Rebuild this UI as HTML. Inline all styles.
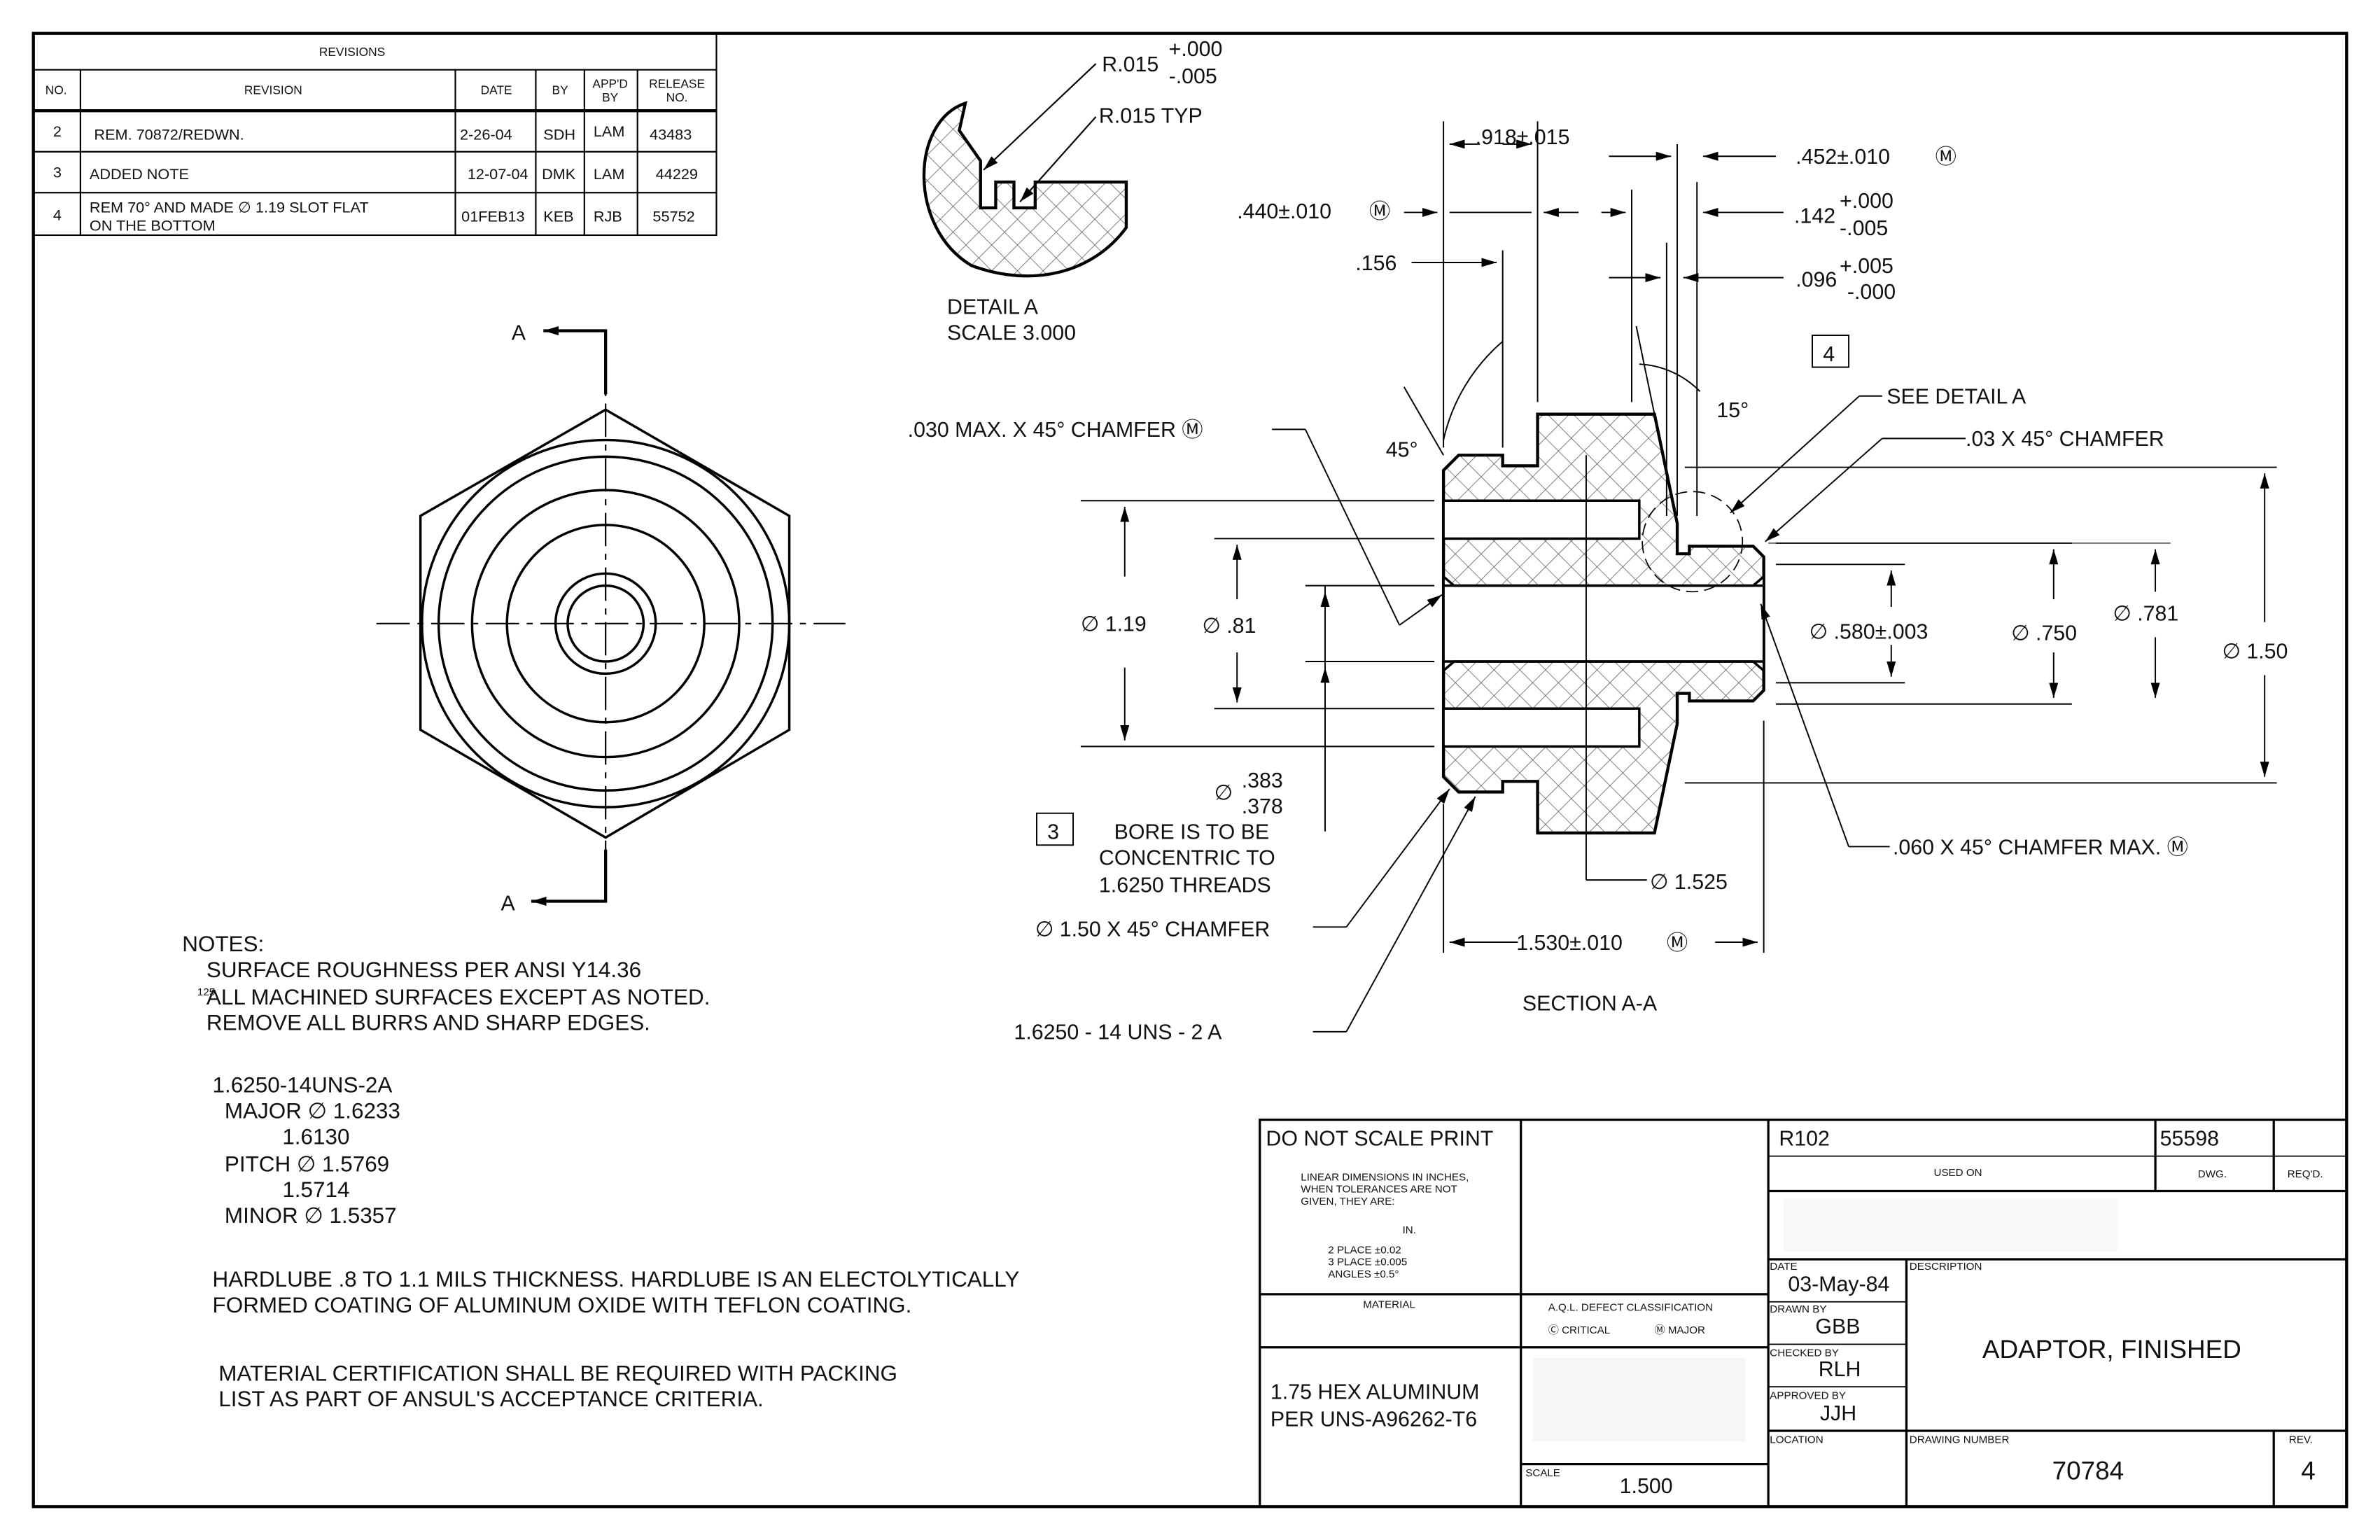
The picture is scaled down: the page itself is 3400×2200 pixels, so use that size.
<!DOCTYPE html>
<html><head><meta charset="utf-8"><style>
html,body{margin:0;padding:0;background:#fff;}
svg{display:block;}
text{font-family:"Liberation Sans",sans-serif;fill:#111;}
</style></head><body>
<svg width="3400" height="2200" viewBox="0 0 1568 1015" preserveAspectRatio="none" xmlns="http://www.w3.org/2000/svg">
<defs>
<pattern id="h" width="12" height="12" patternUnits="userSpaceOnUse" patternTransform="rotate(45)">
<rect width="12" height="12" fill="#fff"/>
<line x1="0" y1="0" x2="0" y2="12" stroke="#555" stroke-width="0.7"/>
<line x1="0" y1="0" x2="12" y2="0" stroke="#555" stroke-width="0.7"/>
</pattern>
<marker id="a" markerWidth="10" markerHeight="6" refX="10" refY="3" orient="auto" markerUnits="userSpaceOnUse"><path d="M0,0 L10,3 L0,6z" fill="#000"/></marker>
</defs>
<rect width="1568" height="1015" fill="#fff"/>
<rect x="22" y="22" width="1524" height="971" fill="none" stroke="#000" stroke-width="2"/>

<!-- Revisions -->
<g stroke="#000" stroke-width="1" fill="none">
<rect x="22" y="22" width="450" height="133"/>
<line x1="22" y1="46" x2="472" y2="46"/>
<line x1="22" y1="73" x2="472" y2="73" stroke-width="2"/>
<line x1="22" y1="100" x2="472" y2="100"/>
<line x1="22" y1="127" x2="472" y2="127"/>
<line x1="53" y1="46" x2="53" y2="155"/><line x1="300" y1="46" x2="300" y2="155"/>
<line x1="353" y1="46" x2="353" y2="155"/><line x1="385" y1="46" x2="385" y2="155"/>
<line x1="420" y1="46" x2="420" y2="155"/>
</g>
<g font-size="8" text-anchor="middle">
<text x="232" y="37">REVISIONS</text><text x="37" y="62">NO.</text><text x="180" y="62">REVISION</text>
<text x="327" y="62">DATE</text><text x="369" y="62">BY</text><text x="402" y="58">APP'D</text><text x="402" y="67">BY</text>
<text x="446" y="58">RELEASE</text><text x="446" y="67">NO.</text>
</g>
<g font-size="10">
<text x="35" y="90">2</text><text x="62" y="92">REM. 70872/REDWN.</text><text x="303" y="92">2-26-04</text><text x="358" y="92">SDH</text><text x="391" y="90">LAM</text><text x="428" y="92">43483</text>
<text x="35" y="117">3</text><text x="59" y="118">ADDED NOTE</text><text x="308" y="118">12-07-04</text><text x="357" y="118">DMK</text><text x="391" y="118">LAM</text><text x="432" y="118">44229</text>
<text x="35" y="145">4</text><text x="59" y="140">REM 70° AND MADE ∅ 1.19 SLOT FLAT</text><text x="59" y="152">ON THE BOTTOM</text><text x="304" y="146">01FEB13</text><text x="358" y="146">KEB</text><text x="391" y="146">RJB</text><text x="430" y="146">55752</text>
</g>

<!-- Hex view -->
<g stroke="#000" stroke-width="1.6" fill="none">
<polygon points="399,270 520,340 520,481 399,552 277,481 277,340"/>
<circle cx="399" cy="411" r="121"/><circle cx="399" cy="411" r="110"/>
<circle cx="399" cy="411" r="88"/><circle cx="399" cy="411" r="65"/>
<circle cx="399" cy="411" r="33"/><circle cx="399" cy="411" r="25"/>
</g>
<g stroke="#000" stroke-width="1" stroke-dasharray="22,5,4,5" fill="none">
<line x1="248" y1="411" x2="557" y2="411"/><line x1="399" y1="230" x2="399" y2="590"/>
</g>
<g stroke="#000" stroke-width="2" fill="none">
<polyline points="399,260 399,218 358,218" marker-end="url(#a)"/>
<polyline points="399,560 399,594 350,594" marker-end="url(#a)"/>
</g>
<text x="337" y="224" font-size="14">A</text><text x="330" y="600" font-size="14">A</text>

<!-- Detail A -->
<path d="M636,68 C600,80 598,150 640,175 C680,190 720,180 742,150 L742,120 L682,120 L682,137 L668,137 L668,120 L656,120 L656,137 L646,137 L646,106 L632,86 Z" fill="url(#h)" stroke="#000" stroke-width="2"/>
<g stroke="#000" stroke-width="1" fill="none">
<line x1="722" y1="42" x2="648" y2="112" marker-end="url(#a)"/>
<line x1="722" y1="77" x2="672" y2="133" marker-end="url(#a)"/>
</g>
<g font-size="14"><text x="726" y="47">R.015</text><text x="770" y="37">+.000</text><text x="770" y="55">-.005</text>
<text x="724" y="81">R.015 TYP</text><text x="624" y="207">DETAIL  A</text><text x="624" y="224">SCALE  3.000</text></g>

<!-- Section part -->
<path d="M961,300 L990,300 L990,307 L1013,307 L1013,273 L1090,273 L1105,345 L1105,365 L1113,365 L1113,360 L1155,360 L1162,367 L1162,455 L1155,462 L1113,462 L1113,457 L1105,457 L1105,477 L1090,549 L1013,549 L1013,515 L990,515 L990,522 L961,522 L951,512 L951,310 Z" fill="url(#h)" stroke="#000" stroke-width="2"/>
<g fill="#fff" stroke="#000" stroke-width="1.6">
<path d="M951,380 L958,386 L1155,386 L1162,380 L1162,442 L1155,436 L958,436 L951,442 Z"/>
<rect x="951" y="330" width="129" height="25"/>
<rect x="951" y="467" width="129" height="25"/>
</g>
<line x1="951" y1="386" x2="1162" y2="386" stroke="#000" stroke-width="1.6"/>
<line x1="951" y1="436" x2="1162" y2="436" stroke="#000" stroke-width="1.6"/>
<circle cx="1115" cy="357" r="33" fill="none" stroke="#000" stroke-width="0.8" stroke-dasharray="8,4"/>

<!-- dimension lines -->
<g stroke="#000" stroke-width="0.9" fill="none">
<line x1="951" y1="80" x2="951" y2="295"/><line x1="1013" y1="80" x2="1013" y2="265"/>
<line x1="1075" y1="125" x2="1075" y2="265"/><line x1="990" y1="165" x2="990" y2="295"/>
<line x1="1105" y1="95" x2="1105" y2="340"/><line x1="1118" y1="120" x2="1118" y2="340"/><line x1="1098" y1="160" x2="1098" y2="340"/>
<line x1="975" y1="95" x2="955" y2="95" marker-end="url(#a)"/><line x1="990" y1="95" x2="1009" y2="95" marker-end="url(#a)"/>
<line x1="925" y1="140" x2="947" y2="140" marker-end="url(#a)"/><line x1="1040" y1="140" x2="1017" y2="140"  marker-end="url(#a)"/>
<line x1="955" y1="140" x2="1009" y2="140"/>
<line x1="930" y1="173" x2="986" y2="173" marker-end="url(#a)"/>
<line x1="1060" y1="103" x2="1101" y2="103" marker-end="url(#a)"/><line x1="1170" y1="103" x2="1122" y2="103" marker-end="url(#a)"/>
<line x1="1055" y1="140" x2="1071" y2="140" marker-end="url(#a)"/><line x1="1175" y1="140" x2="1122" y2="140" marker-end="url(#a)"/>
<line x1="1060" y1="183" x2="1094" y2="183" marker-end="url(#a)"/><line x1="1175" y1="183" x2="1109" y2="183" marker-end="url(#a)"/>
<path d="M951,290 A120,120 0 0 1 990,225"/><line x1="951" y1="300" x2="925" y2="255"/>
<path d="M1080,240 A60,60 0 0 1 1120,258"/><line x1="1090" y1="273" x2="1078" y2="215"/>
<line x1="712" y1="330" x2="945" y2="330"/><line x1="712" y1="492" x2="945" y2="492"/>
<line x1="741" y1="380" x2="741" y2="334" marker-end="url(#a)"/><line x1="741" y1="440" x2="741" y2="488" marker-end="url(#a)"/>
<line x1="800" y1="355" x2="945" y2="355"/><line x1="800" y1="467" x2="945" y2="467"/>
<line x1="815" y1="395" x2="815" y2="359" marker-end="url(#a)"/><line x1="815" y1="430" x2="815" y2="463" marker-end="url(#a)"/>
<line x1="860" y1="386" x2="945" y2="386"/><line x1="860" y1="436" x2="945" y2="436"/>
<line x1="873" y1="386" x2="873" y2="548"/>
<line x1="873" y1="500" x2="873" y2="440" marker-end="url(#a)"/><line x1="873" y1="395" x2="873" y2="390" marker-end="url(#a)"/>
<line x1="1170" y1="372" x2="1255" y2="372"/><line x1="1170" y1="450" x2="1255" y2="450"/>
<line x1="1246" y1="400" x2="1246" y2="376" marker-end="url(#a)"/><line x1="1246" y1="425" x2="1246" y2="446" marker-end="url(#a)"/>
<line x1="1170" y1="358" x2="1365" y2="358"/><line x1="1170" y1="464" x2="1365" y2="464"/>
<line x1="1353" y1="395" x2="1353" y2="362" marker-end="url(#a)"/><line x1="1353" y1="430" x2="1353" y2="460" marker-end="url(#a)"/>
<line x1="1165" y1="358" x2="1430" y2="358" stroke-width="0.5"/>
<line x1="1420" y1="390" x2="1420" y2="362" marker-end="url(#a)"/><line x1="1420" y1="420" x2="1420" y2="460" marker-end="url(#a)"/>
<line x1="1110" y1="308" x2="1500" y2="308"/><line x1="1110" y1="516" x2="1500" y2="516"/>
<line x1="1492" y1="410" x2="1492" y2="312" marker-end="url(#a)"/><line x1="1492" y1="445" x2="1492" y2="512" marker-end="url(#a)"/>
<line x1="951" y1="530" x2="951" y2="628"/><line x1="1162" y1="475" x2="1162" y2="628"/>
<line x1="1000" y1="621" x2="955" y2="621" marker-end="url(#a)"/><line x1="1130" y1="621" x2="1158" y2="621" marker-end="url(#a)"/>
<line x1="1045" y1="300" x2="1045" y2="580"/><line x1="1045" y1="580" x2="1085" y2="580"/>
<line x1="838" y1="283" x2="860" y2="283"/><line x1="860" y1="283" x2="922" y2="412"/><line x1="922" y1="412" x2="950" y2="392" marker-end="url(#a)"/>
<line x1="1240" y1="261" x2="1225" y2="261"/><line x1="1225" y1="261" x2="1140" y2="338" marker-end="url(#a)"/>
<line x1="1295" y1="289" x2="1240" y2="289"/><line x1="1240" y1="289" x2="1163" y2="357" marker-end="url(#a)"/>
<line x1="1245" y1="558" x2="1218" y2="558"/><line x1="1218" y1="558" x2="1160" y2="398" marker-end="url(#a)"/>
<line x1="865" y1="611" x2="887" y2="611"/><line x1="887" y1="611" x2="955" y2="520" marker-end="url(#a)"/>
<line x1="865" y1="680" x2="887" y2="680"/><line x1="887" y1="680" x2="972" y2="525" marker-end="url(#a)"/>
<rect x="1194" y="221" width="24" height="21"/><rect x="683" y="536" width="24" height="21"/>
</g>
<g font-size="14">
<text x="972" y="95">.918±.015</text><text x="1183" y="108">.452±.010</text><text x="1275" y="108">Ⓜ</text>
<text x="815" y="144">.440±.010</text><text x="902" y="144">Ⓜ</text>
<text x="1182" y="147">.142</text><text x="1212" y="137">+.000</text><text x="1212" y="155">-.005</text>
<text x="893" y="178">.156</text>
<text x="1183" y="189">.096</text><text x="1212" y="180">+.005</text><text x="1217" y="197">-.000</text>
<text x="1201" y="238">4</text><text x="690" y="553">3</text>
<text x="1243" y="266">SEE DETAIL  A</text><text x="1131" y="275">15°</text><text x="913" y="301">45°</text>
<text x="1295" y="294">.03 X 45° CHAMFER</text>
<text x="598" y="288">.030 MAX. X 45° CHAMFER Ⓜ</text>
<text x="712" y="416">∅ 1.19</text><text x="792" y="417">∅ .81</text>
<text x="1192" y="421">∅ .580±.003</text><text x="1325" y="422">∅ .750</text><text x="1392" y="409">∅ .781</text><text x="1464" y="434">∅ 1.50</text>
<text x="800" y="527">∅</text><text x="818" y="519">.383</text><text x="818" y="536">.378</text>
<text x="734" y="553">BORE IS TO BE</text><text x="724" y="570">CONCENTRIC TO</text><text x="724" y="588">1.6250 THREADS</text>
<text x="1247" y="563">.060 X 45° CHAMFER MAX. Ⓜ</text>
<text x="1087" y="586">∅ 1.525</text>
<text x="682" y="617">∅ 1.50 X 45° CHAMFER</text>
<text x="999" y="626">1.530±.010</text><text x="1098" y="626">Ⓜ</text>
<text x="1003" y="666">SECTION  A-A</text>
<text x="668" y="685">1.6250 - 14 UNS - 2 A</text>
</g>

<!-- Notes -->
<g font-size="14.5">
<text x="120" y="627">NOTES:</text>
<text x="136" y="644">SURFACE ROUGHNESS PER ANSI Y14.36</text>
<text x="136" y="662">ALL MACHINED SURFACES EXCEPT AS NOTED.</text>
<text x="136" y="679">REMOVE ALL BURRS AND SHARP EDGES.</text>
<text x="140" y="720">1.6250-14UNS-2A</text>
<text x="148" y="737">MAJOR ∅  1.6233</text><text x="186" y="754">1.6130</text>
<text x="148" y="772">PITCH ∅  1.5769</text><text x="186" y="789">1.5714</text>
<text x="148" y="806">MINOR ∅  1.5357</text>
<text x="140" y="848">HARDLUBE .8 TO 1.1 MILS THICKNESS. HARDLUBE IS AN ELECTOLYTICALLY</text>
<text x="140" y="865">FORMED COATING OF ALUMINUM OXIDE WITH TEFLON COATING.</text>
<text x="144" y="910">MATERIAL CERTIFICATION SHALL BE REQUIRED WITH PACKING</text>
<text x="144" y="927">LIST AS PART OF ANSUL'S ACCEPTANCE CRITERIA.</text>
</g>
<text x="130" y="656" font-size="7">125</text>

<!-- Title block -->
<g stroke="#000" stroke-width="1.5" fill="none">
<rect x="830" y="738" width="716" height="255"/>
<line x1="1002" y1="738" x2="1002" y2="993"/><line x1="1165" y1="738" x2="1165" y2="993"/>
<line x1="830" y1="853" x2="1165" y2="853"/><line x1="830" y1="888" x2="1165" y2="888"/>
<line x1="1002" y1="965" x2="1165" y2="965"/>
<line x1="1165" y1="762" x2="1546" y2="762" stroke-width="0.8"/>
<line x1="1165" y1="785" x2="1546" y2="785"/><line x1="1165" y1="830" x2="1546" y2="830"/>
<line x1="1420" y1="738" x2="1420" y2="785"/><line x1="1498" y1="738" x2="1498" y2="785"/>
<line x1="1256" y1="830" x2="1256" y2="993"/>
<line x1="1165" y1="858" x2="1256" y2="858" stroke-width="0.8"/><line x1="1165" y1="886" x2="1256" y2="886" stroke-width="0.8"/>
<line x1="1165" y1="914" x2="1256" y2="914" stroke-width="0.8"/><line x1="1165" y1="943" x2="1546" y2="943"/>
<line x1="1498" y1="943" x2="1498" y2="993"/>
</g>
<rect x="1010" y="895" width="140" height="55" fill="#f6f6f6"/>
<rect x="1175" y="790" width="220" height="35" fill="#f8f8f8"/>
<g font-size="14"><text x="834" y="755">DO NOT SCALE PRINT</text><text x="1172" y="755">R102</text><text x="1423" y="755">55598</text>
<text x="837" y="922">1.75 HEX ALUMINUM</text><text x="837" y="940">PER UNS-A96262-T6</text>
<text x="1178" y="851">03-May-84</text><text x="1196" y="879">GBB</text><text x="1198" y="907">RLH</text><text x="1199" y="936">JJH</text>
<text x="1067" y="984">1.500</text><text x="1352" y="975" font-size="17">70784</text><text x="1516" y="975" font-size="17">4</text>
<text x="1306" y="895" font-size="17">ADAPTOR, FINISHED</text></g>
<g font-size="7">
<text x="857" y="778">LINEAR DIMENSIONS IN INCHES,</text><text x="857" y="786">WHEN TOLERANCES ARE NOT</text><text x="857" y="794">GIVEN, THEY ARE:</text>
<text x="924" y="813">IN.</text><text x="875" y="826">2 PLACE  ±0.02</text><text x="875" y="834">3 PLACE  ±0.005</text><text x="875" y="842">ANGLES  ±0.5°</text>
<text x="898" y="862">MATERIAL</text><text x="1020" y="864">A.Q.L. DEFECT CLASSIFICATION</text>
<text x="1020" y="879">Ⓒ CRITICAL</text><text x="1090" y="879">Ⓜ MAJOR</text>
<text x="1005" y="973">SCALE</text><text x="1274" y="775">USED ON</text><text x="1448" y="776">DWG.</text><text x="1507" y="776">REQ'D.</text>
<text x="1166" y="837">DATE</text><text x="1258" y="837">DESCRIPTION</text><text x="1166" y="865">DRAWN BY</text>
<text x="1166" y="894">CHECKED BY</text><text x="1166" y="922">APPROVED BY</text><text x="1166" y="951">LOCATION</text>
<text x="1258" y="951">DRAWING NUMBER</text><text x="1508" y="951">REV.</text>
</g>
</svg>
</body></html>
